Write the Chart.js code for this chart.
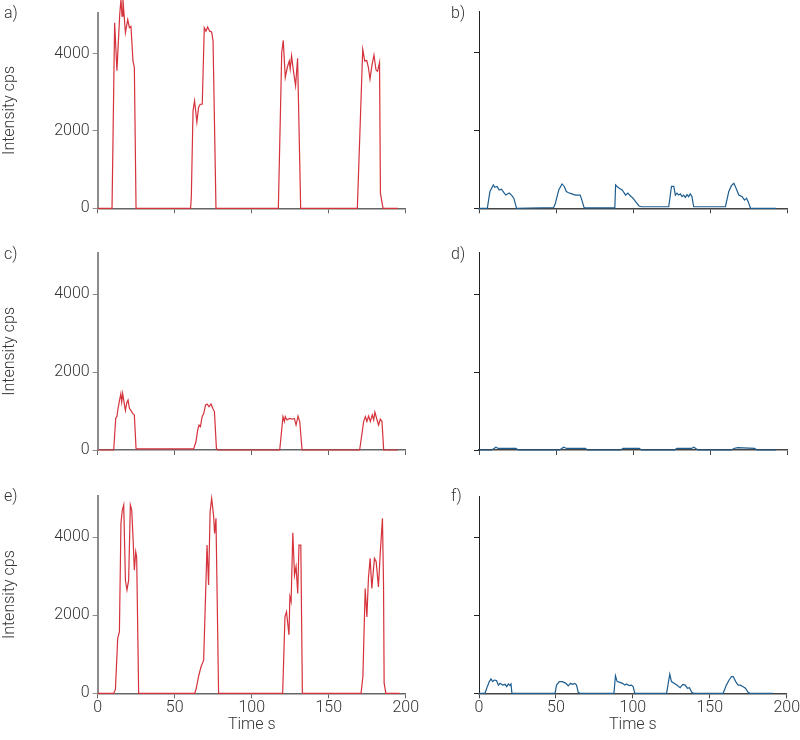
<!DOCTYPE html>
<html>
<head>
<meta charset="utf-8">
<script src="https://cdn.jsdelivr.net/npm/chart.js@4.4.1/dist/chart.umd.min.js"></script>
<style>
  body { margin: 0; background: #fff; }
  #wrap { position: relative; width: 800px; height: 740px; overflow: hidden; }
  canvas { position: absolute; }
  .lbl { position: absolute; font: 300 16px Roboto, sans-serif; color: #333; line-height: 16px; }
</style>
</head>
<body>
<div id="wrap">
  <canvas id="ca" width="420" height="240" style="left:0;top:0"></canvas>
  <canvas id="cb" width="360" height="240" style="left:440px;top:0"></canvas>
  <canvas id="cc" width="420" height="240" style="left:0;top:240px"></canvas>
  <canvas id="cd" width="360" height="240" style="left:440px;top:240px"></canvas>
  <canvas id="ce" width="420" height="260" style="left:0;top:480px"></canvas>
  <canvas id="cf" width="360" height="260" style="left:440px;top:480px"></canvas>
  <div class="lbl" style="left:4px;top:5px">a)</div>
  <div class="lbl" style="left:451px;top:5px">b)</div>
  <div class="lbl" style="left:4px;top:246px">c)</div>
  <div class="lbl" style="left:451px;top:246px">d)</div>
  <div class="lbl" style="left:4px;top:488px">e)</div>
  <div class="lbl" style="left:451px;top:488px">f)</div>
</div>
<script>
// time axis ticks and intensity ticks
const xTicks = [0, 50, 100, 150, 200];
const yTicks = [0, 2000, 4000];

// a) red
const aTime = [0, 9.3, 11, 12.5, 14.3, 15.1, 15.8, 16.4, 18, 19.5, 20.6, 21.6, 22.9, 23.8, 24.9,
  60.3, 60.8, 61.9, 62.9, 64.4, 65.5, 66.6, 67.9, 69.2, 70.3, 71.4, 72.7, 74, 74.9, 76.8,
  117.3, 119.5, 120.5, 121.8, 123.1, 124.4, 125, 125.9, 127, 128.5, 129.8, 131.8,
  168.6, 172.1, 173.4, 174.7, 175.8, 176.8, 178.1, 179.4, 180.7, 181.7, 183, 183.6, 185.3, 195];
const aCps = [0, 0, 4800, 3560, 5010, 5400, 4970, 5400, 4540, 4880, 4670, 4700, 3810, 3640, 0,
  0, 300, 2520, 2780, 2230, 2610, 2690, 2690, 4670, 4580, 4690, 4580, 4560, 4330, 0,
  0, 4030, 4340, 3380, 3640, 3810, 3600, 3940, 3580, 3170, 3880, 0,
  0, 4110, 3810, 3820, 3640, 3340, 3700, 3960, 3580, 3540, 3770, 385, 0, 0];

// b) blue
const bTime = [0, 5.4, 7.1, 9.3, 10.3, 11.8, 13.1, 14.6, 15.7, 17.4, 19.6, 21.1, 22.6, 24.4,
  48.5, 49.6, 51.8, 53.9, 55.4, 56.7, 58.2, 60.3, 62.5, 65.7, 66.8, 68.3,
  88.2, 88.7, 89.6, 91.3, 93, 95.2, 96.7, 98.2, 100, 101.7, 103.9, 105.4,
  123.2, 125, 126.5, 127.5, 128.6, 129.7, 130.8, 131.8, 132.9, 134, 135.1, 136.1, 137.2, 138.3, 139.4,
  160, 162.2, 163.9, 165.5, 167, 168.7, 170.9, 172.4, 173.7, 174.8, 176.3, 193];
const bCps = [0, 0, 430, 600, 540, 560, 470, 490, 430, 340, 390, 340, 260, 0,
  20, 130, 470, 625, 560, 430, 400, 370, 340, 340, 210, 10,
  10, 600, 560, 510, 470, 340, 390, 320, 260, 170, 60, 40,
  40, 560, 560, 340, 390, 340, 370, 300, 340, 280, 350, 300, 370, 300, 40,
  40, 430, 580, 640, 510, 340, 300, 210, 260, 170, 0, 0];

// c) red
const cTime = [0, 10.4, 11.7, 12.5, 13.2, 14.2, 15, 15.6, 16.2, 17.1, 18, 18.8, 19.7, 20.6, 21.6, 22.7, 23.8, 24.9, 25.5,
  62.3, 63.8, 64.9, 65.8, 66.7, 67.8, 68.9, 70, 71, 72.3, 73.6, 74.7, 75.8, 77.1, 77.8,
  118.2, 120.3, 121.2, 121.8, 122.9, 124.6, 126.2, 127.7, 128.8, 130.1, 131.2, 132.7,
  170.1, 172.7, 173.8, 174.8, 175.9, 177, 178.3, 179.2, 180, 181.4, 182.4, 183.5, 184.6, 185.7, 195];
const cCps = [0, 0, 815, 860, 1070, 1280, 1440, 1230, 1450, 1230, 1010, 1200, 1280, 1070, 1010, 940, 900, 40, 30,
  30, 210, 510, 640, 600, 855, 940, 1150, 1180, 1110, 1180, 1070, 985, 40, 0,
  0, 855, 730, 855, 770, 810, 790, 810, 640, 870, 730, 0,
  0, 730, 855, 730, 870, 730, 900, 770, 970, 770, 640, 790, 730, 0, 0];

// d) blue
const dTime = [0, 8, 9.5, 11, 12.5, 24, 25.5, 52, 53.5, 55, 57, 69, 70.5, 92, 93.5, 104, 105.5,
  127, 128.5, 138, 139.5, 141, 142.5, 164, 165.5, 168, 179, 180.5, 193];
const dCps = [0, 0, 30, 70, 40, 40, 0, 0, 30, 70, 40, 40, 0, 0, 40, 40, 0,
  0, 40, 40, 70, 30, 0, 0, 40, 60, 40, 0, 0];

// e) red
const eTime = [0, 10.4, 11.5, 13, 14.1, 15.1, 16, 16.9, 18, 19, 20.1, 21.2, 22.1, 22.9, 23.8, 24.7, 25.3, 26.6,
  63, 63.9, 65.6, 67.1, 68.8, 71, 72, 73, 74, 75.3, 75.9, 76.8, 77.5, 78.5,
  120.1, 121.6, 122.6, 124.2, 124.8, 125.6, 126.7, 127.8, 128.8, 129.9, 130.7, 131.9, 132.9,
  171, 172.2, 173.7, 174.8, 175.8, 176.9, 178, 179.7, 180.8, 182.3, 183.4, 184.9, 185.6, 186, 187.1, 196];
const eCps = [0, 0, 100, 1410, 1580, 4360, 4700, 4830, 2900, 2650, 2900, 4830, 4700, 4020, 3160, 3630, 3500, 0,
  0, 110, 450, 680, 850, 3800, 2780, 4660, 5000, 4530, 4100, 4490, 2650, 0,
  0, 1960, 2090, 1500, 2480, 2350, 4120, 3030, 3250, 2560, 3800, 3800, 0,
  0, 430, 2690, 1960, 2950, 3460, 2690, 3460, 3380, 2730, 3550, 4490, 2800, 260, 0, 0];

// f) blue
const fTime = [0, 3.9, 5.4, 6.7, 7.8, 8.9, 9.9, 11.4, 12.6, 13.6, 15.4, 16.9, 18, 19.1, 20.1, 20.8, 21.4,
  49.4, 50.4, 52.2, 54.3, 56.5, 58, 59.5, 60.8, 62.3, 63.4, 64.5, 65.5,
  87.7, 88.7, 89.8, 91.6, 93.3, 94.8, 95.9, 97.6, 99.1, 100.2, 101.3,
  121.9, 122.9, 124, 125.1, 128.6, 130.7, 132.5, 134, 135.5, 136.8, 138.3, 139.5,
  158.7, 160.8, 162.6, 164.1, 165.2, 166.9, 168.4, 169.9, 171.7, 173.2, 174.9, 176, 191];
const fCps = [0, 0, 170, 300, 370, 300, 340, 325, 210, 255, 210, 230, 170, 240, 200, 240, 0,
  0, 210, 300, 300, 255, 190, 255, 230, 255, 210, 25, 0,
  0, 450, 300, 280, 255, 210, 240, 200, 210, 170, 0,
  0, 230, 490, 300, 210, 145, 230, 210, 130, 145, 25, 0,
  0, 210, 340, 430, 430, 300, 210, 210, 170, 130, 25, 0, 0];

const RED = "#d5323b";
const BLUE = "#1d5d8f";
const FONT = "Roboto, sans-serif";

function drawPanel(id, time, cps, color, o) {
  const ctx = document.getElementById(id).getContext("2d");
  new Chart(ctx, {
    type: "line",
    data: {
      datasets: [{
        data: time.map((t, i) => ({ x: t, y: cps[i] })),
        borderColor: color,
        borderWidth: 1.2,
        pointRadius: 0,
        tension: 0,
        clip: false,
      }],
    },
    options: {
      responsive: false,
      animation: false,
      events: [],
      layout: { padding: { top: o.top, right: o.right, left: 0, bottom: 0 } },
      plugins: { legend: { display: false }, tooltip: { enabled: false } },
      scales: {
        x: {
          type: "linear",
          min: 0,
          max: 200,
          afterBuildTicks: (s) => { s.ticks = xTicks.map((v) => ({ value: v })); },
          afterFit: (s) => { s.height = o.xh; },
          border: { color: o.xAxis, width: 1.5 },
          grid: { drawOnChartArea: false, tickLength: 5, color: o.xAxis },
          ticks: { display: o.bottom, font: { family: FONT, size: 16, weight: 300 }, color: "#333", padding: 0, maxRotation: 0, callback: (v) => String(v) },
          title: { display: o.bottom, text: "Time s", font: { family: FONT, size: 16, weight: 300 }, color: "#333", padding: { top: 0, bottom: 5 } },
        },
        y: {
          min: 0,
          max: 5060,
          afterBuildTicks: (s) => { s.ticks = yTicks.map((v) => ({ value: v })); },
          afterFit: (s) => { s.width = o.yw; },
          border: { color: o.yAxis, width: o.yAxisW },
          grid: { drawOnChartArea: false, tickLength: 5, color: o.yAxis },
          ticks: { display: o.left, font: { family: FONT, size: 16, weight: 300 }, color: "#333", padding: 3, callback: (v) => String(v) },
          title: { display: o.left, text: "Intensity cps", font: { family: FONT, size: 16, weight: 300 }, color: "#333", padding: { top: 0, bottom: 0 } },
        },
      },
    },
  });
}

const L = { left: true, yw: 97.7, right: 14.3, yAxis: "#8c8c8c", yAxisW: 2, xAxis: "#666" };
const R = { left: false, yw: 39, right: 13, yAxis: "#222", yAxisW: 1, xAxis: "#444" };

drawPanel("ca", aTime, aCps, RED, { ...L, top: 11, xh: 31.7, bottom: false });
drawPanel("cb", bTime, bCps, BLUE, { ...R, top: 11, xh: 31.7, bottom: false });
drawPanel("cc", cTime, cCps, RED, { ...L, top: 12.7, xh: 30, bottom: false });
drawPanel("cd", dTime, dCps, BLUE, { ...R, top: 12.7, xh: 30, bottom: false });
drawPanel("ce", eTime, eCps, RED, { ...L, top: 16, xh: 46.7, bottom: true });
drawPanel("cf", fTime, fCps, BLUE, { ...R, top: 16, xh: 46.7, bottom: true });
</script>
</body>
</html>
